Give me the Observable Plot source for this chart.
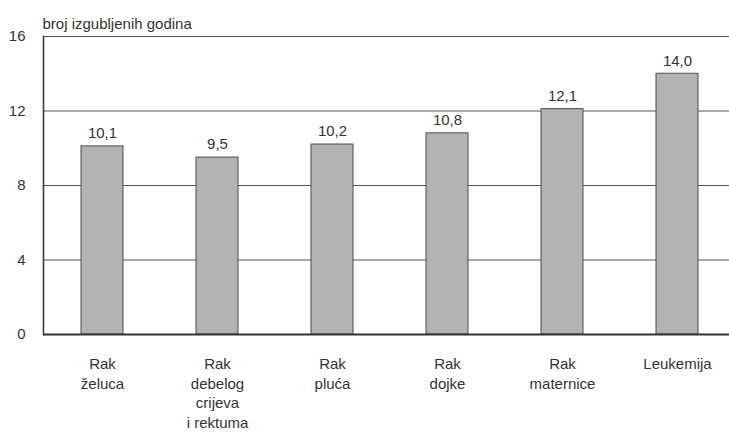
<!DOCTYPE html>
<html>
<head>
<meta charset="utf-8">
<script src="https://cdn.jsdelivr.net/npm/d3@7"></script>
<script src="https://cdn.jsdelivr.net/npm/@observablehq/plot@0.6"></script>
<style>
  html, body { margin: 0; padding: 0; background: #fff; }
  svg { display: block; }
</style>
</head>
<body>
<div id="chart"></div>
<script>
const categories = ["Rak\nželuca", "Rak\ndebelog\ncrijeva\ni rektuma", "Rak\npluća", "Rak\ndojke", "Rak\nmaternice", "Leukemija"];
const values = [10.1, 9.5, 10.2, 10.8, 12.1, 14.0];
const yTicks = [0, 4, 8, 12, 16];
const yLabel = "broj izgubljenih godina";

const data = categories.map((c, i) => ({cat: c, val: values[i]}));
const fmt = v => v.toFixed(1).replace(".", ",");
const textColor = "#333";
const font = "Liberation Sans, Arial, sans-serif";

const chart = Plot.plot({
  width: 729,
  height: 432,
  marginLeft: 43,
  marginRight: 0,
  marginTop: 36,
  marginBottom: 98,
  style: {fontFamily: font, fontSize: "15px", color: textColor, background: "#fff"},
  x: {domain: categories, range: [43, 736.6], paddingInner: 0.636, paddingOuter: 0.318, label: null},
  y: {domain: [0, 16], ticks: yTicks, label: null},
  marks: [
    Plot.ruleY(yTicks.filter(d => d > 0), {stroke: "#555", strokeWidth: 1}),
    Plot.barY(data, {x: "cat", y: "val", fill: "#b3b3b3", stroke: "#4d4d4d", strokeWidth: 1}),
    Plot.text(data, {x: "cat", y: "val", text: d => fmt(d.val), dy: -13, fontSize: 15, fill: textColor}),
    Plot.ruleY([0], {stroke: "#333", strokeWidth: 2}),
    Plot.frame({anchor: "left", stroke: "#333", strokeWidth: 1.5}),
    Plot.axisY({ticks: yTicks, tickSize: 0, tickPadding: 18, fontSize: 15, fill: textColor, label: null}),
    Plot.axisX({tickSize: 0, tickPadding: 21, fontSize: 15, lineHeight: 1.3, fill: textColor, label: null}),
    Plot.text([yLabel], {frameAnchor: "top-left", textAnchor: "start", dx: -1, dy: -18, fontSize: 15, fill: textColor})
  ]
});
document.getElementById("chart").appendChild(chart);
</script>
</body>
</html>
